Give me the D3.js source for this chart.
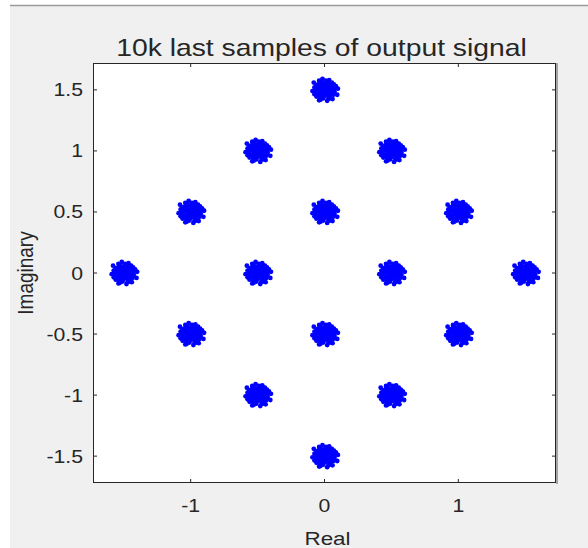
<!DOCTYPE html>
<html>
<head>
<meta charset="utf-8">
<script src="https://cdn.jsdelivr.net/npm/d3@7"></script>
<style>
  html, body { margin: 0; padding: 0; background: #fff; }
  svg { display: block; }
  text { font-family: "Liberation Sans", Arial, Helvetica, sans-serif; fill: #262626; }
</style>
</head>
<body>
<svg id="chart" width="588" height="548"></svg>
<script>
// constellation centres (real, imag)
const centresRe = [0, -0.5, 0.5, -1, 0, 1, -1.5, -0.5, 0.5, 1.5, -1, 0, 1, -0.5, 0.5, 0];
const centresIm = [1.5, 1, 1, 0.5, 0.5, 0.5, 0, 0, 0, 0, -0.5, -0.5, -0.5, -1, -1, -1.5];

// noise cloud around each centre (units of 0.01)
const noiseRe = [0, 2.5, -2.5, 5, -5, 0.5, -0.5, 0, 0, 2.5, -2.5, 2, -3, 5, -5, 5.5, -4.5,
  2.5, -2, 3, -2.5, 4.5, -4, 4, -4.5, 1, -1, 7, -7, 1, -1, 6.5, -6, 3, -3.5, 7.5, -7.5,
  5.5, -6, 8.5, -9, 2, -1.5, 9.5, -4, 10, -8, 6, 3.5, -3, 1.5, -1.5, 6, -6.5,
  6, 3.5, -3.5, -6, -6.5, -3, 3.5, 6.5, 1, -1.5, 3.5, -3.5, 0, 7, -7.5, 4, -4];
const noiseIm = [0, 0.5, -0.5, 0, 0.5, 2.5, -2.5, 5, -5, 2.5, 2.5, -2.5, -2, 2.5, 2.5, -2.5, -3,
  5, 5.5, -5, -5, 4.5, 4, -4.5, -4.5, 7, -7, 1, -1, 7.5, -1.5, -4, 4, -7, 6.5, -1.5, 2,
  6, -5.5, 3, -1, -9, 9, -4, -8.5, 1, 6, -7.5, 8, -8, 3.5, -4, 1.5, 0,
  3.5, 6, 6, 3, -3.5, -6.5, -6, -2.5, 3.5, 1, -1, 1, -3.5, 4.5, -3.5, -7, 7.5];

const xTicks = [-1, 0, 1];
const yTicks = [-1.5, -1, -0.5, 0, 0.5, 1, 1.5];

const W = 588, H = 548;
const box = { left: 93, right: 556, top: 63, bottom: 483 };
const STRETCH = 1.18;   // the source picture is stretched sideways

const svg = d3.select('#chart');

// window chrome: white strip left, grey line on top, grey figure area
svg.append('rect').attr('width', W).attr('height', H).attr('fill', '#fff');
svg.append('rect').attr('x', 10).attr('y', 5).attr('width', W - 10).attr('height', H - 5).attr('fill', '#f0f0f0');
svg.append('line').attr('x1', 10).attr('x2', W).attr('y1', 5.5).attr('y2', 5.5)
  .attr('stroke', '#9a9a9a').attr('stroke-width', 1.5);

const x = d3.scaleLinear().domain([-1.73, 1.73]).range([box.left, box.right]);
const y = d3.scaleLinear().domain([-1.72, 1.72]).range([box.bottom, box.top]);

// axes background
svg.append('rect')
  .attr('x', box.left).attr('y', box.top)
  .attr('width', box.right - box.left).attr('height', box.bottom - box.top)
  .attr('fill', '#fff');

// samples
const pts = [];
centresRe.forEach((re, i) => {
  noiseRe.forEach((n, j) => pts.push([re + n / 100, centresIm[i] + noiseIm[j] / 100]));
});

svg.append('g')
  .selectAll('circle')
  .data(pts)
  .join('circle')
  .attr('cx', d => x(d[0]))
  .attr('cy', d => y(d[1]))
  .attr('r', 2.4)
  .attr('fill', '#0000ff');

// ticks on all four sides, pointing in
const TL = 4;
const tickG = svg.append('g').attr('stroke', '#262626').attr('stroke-width', 1);
xTicks.forEach(t => {
  tickG.append('line').attr('x1', x(t)).attr('x2', x(t)).attr('y1', box.bottom).attr('y2', box.bottom - TL);
  tickG.append('line').attr('x1', x(t)).attr('x2', x(t)).attr('y1', box.top).attr('y2', box.top + TL);
});
yTicks.forEach(t => {
  tickG.append('line').attr('y1', y(t)).attr('y2', y(t)).attr('x1', box.left).attr('x2', box.left + TL);
  tickG.append('line').attr('y1', y(t)).attr('y2', y(t)).attr('x1', box.right).attr('x2', box.right - TL);
});

// box
svg.append('rect')
  .attr('x', box.left + 0.5).attr('y', box.top + 0.5)
  .attr('width', box.right - box.left - 1).attr('height', box.bottom - box.top - 1)
  .attr('fill', 'none').attr('stroke', '#262626').attr('stroke-width', 1);
svg.append('line').attr('x1', box.right + 1).attr('x2', box.right + 1)
  .attr('y1', box.top).attr('y2', box.bottom + 1).attr('stroke', '#8c8c8c').attr('stroke-width', 1.5);

// tick labels
xTicks.forEach(t => {
  svg.append('text')
    .attr('transform', `translate(${x(t)},512) scale(${STRETCH},1)`)
    .attr('text-anchor', 'middle')
    .attr('font-size', 18)
    .text(String(t));
});
yTicks.forEach(t => {
  svg.append('text')
    .attr('transform', `translate(83,${y(t) + 6.5}) scale(${STRETCH},1)`)
    .attr('text-anchor', 'end')
    .attr('font-size', 18)
    .text(String(t));
});

// labels
svg.append('text')
  .attr('transform', `translate(${(box.left + box.right) / 2 + 3},545) scale(${STRETCH},1)`)
  .attr('text-anchor', 'middle').attr('font-size', 19)
  .text('Real');
svg.append('text')
  .attr('transform', `translate(33,${(box.top + box.bottom) / 2}) rotate(-90) scale(1,${STRETCH})`)
  .attr('text-anchor', 'middle').attr('font-size', 19)
  .text('Imaginary');
svg.append('text')
  .attr('transform', `translate(${(box.left + box.right) / 2 - 3},56) scale(${STRETCH},1)`)
  .attr('text-anchor', 'middle').attr('font-size', 24)
  .attr('fill', '#000')
  .text('10k last samples of output signal');
</script>
</body>
</html>
